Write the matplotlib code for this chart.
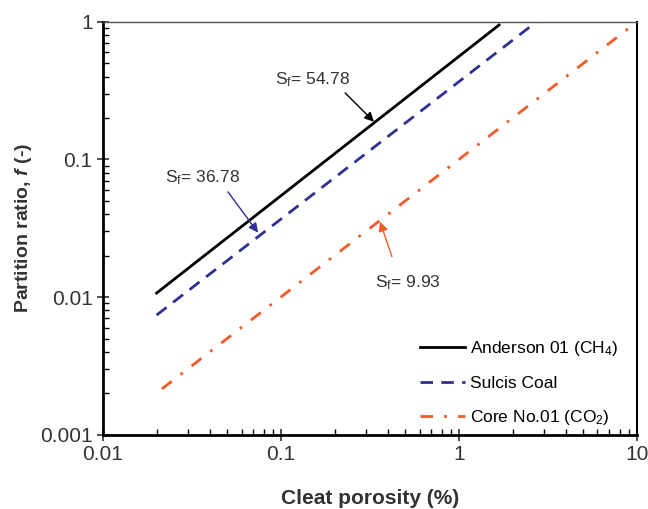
import matplotlib.pyplot as plt

plt.rcParams['font.family'] = ['Liberation Sans', 'DejaVu Sans']
plt.rcParams['mathtext.fontset'] = 'custom'
plt.rcParams['mathtext.rm'] = 'Liberation Sans'
plt.rcParams['mathtext.it'] = 'Liberation Sans:italic'
plt.rcParams['mathtext.bf'] = 'Liberation Sans:bold'
plt.rcParams['mathtext.bfit'] = 'Liberation Sans:bold:italic'

# Line end points (cleat porosity %, partition ratio)
anderson_x = [0.02, 1.68]
anderson_f = [0.0107, 0.95]
sulcis_x = [0.02, 2.72]
sulcis_f = [0.0074, 1.0]
core_x = [0.0214, 10.0]
core_f = [0.00215, 1.0]

labels = ['Anderson 01 (CH$_4$)', 'Sulcis Coal', 'Core No.01 (CO$_2$)']
colors = ['black', '#2E3192', '#F15A29']

# annotations: text, text position, arrow tip, arrow tail
sf_texts = ['S$_\\mathregular{f}$= 54.78', 'S$_\\mathregular{f}$= 36.78', 'S$_\\mathregular{f}$= 9.93']
sf_text_xy = [(0.092, 0.38), (0.0223, 0.0736), (0.337, 0.0127)]
sf_tip_xy = [(0.333, 0.188), (0.0743, 0.0294), (0.36, 0.0353)]
sf_arrow_start = [(0.229, 0.305), (0.0503, 0.0582), (0.42, 0.0197)]

fig, ax = plt.subplots(figsize=(6.48, 5.09), dpi=100)
fig.subplots_adjust(left=0.159, right=0.983, top=0.957, bottom=0.146)

ax.plot(anderson_x, anderson_f, color=colors[0], lw=2, label=labels[0])
ax.plot(sulcis_x, sulcis_f, color=colors[1], lw=2, dashes=(4.5, 3), label=labels[1])
ax.plot(core_x, core_f, color=colors[2], lw=2, dashes=(4.5, 4, 1, 4), label=labels[2])

for txt, txy, tip, start, c in zip(sf_texts, sf_text_xy, sf_tip_xy, sf_arrow_start, colors):
    ax.text(txy[0], txy[1], txt, fontsize=12.5, color='#333333', ha='left', va='center')
    ax.annotate('', xy=tip, xytext=start,
                arrowprops=dict(arrowstyle='-|>', color=c, lw=1, mutation_scale=14,
                                shrinkA=0, shrinkB=0))

ax.set_xscale('log')
ax.set_yscale('log')
ax.set_xlim(0.01, 10)
ax.set_ylim(0.001, 1)
ax.set_xticks([0.01, 0.1, 1, 10])
ax.set_xticklabels(['0.01', '0.1', '1', '10'])
ax.set_yticks([0.001, 0.01, 0.1, 1])
ax.set_yticklabels(['0.001', '0.01', '0.1', '1'])

ax.tick_params(which='major', direction='inout', length=8, width=1.2, labelsize=15,
               colors='#333333', top=False, right=False)
ax.tick_params(which='minor', direction='in', length=4, width=1, top=False, right=False)
for side in ['left', 'bottom']:
    ax.spines[side].set_linewidth(2)
ax.spines['right'].set_linewidth(1.5)
ax.spines['top'].set_linewidth(1)
ax.spines['top'].set_color('#555555')

ax.set_xlabel('Cleat porosity (%)', fontsize=15, fontweight='bold', color='#333333', labelpad=18)
ax.set_ylabel('Partition ratio, $\\mathbfit{f}$ (-)', fontsize=14, fontweight='bold',
              color='#333333', labelpad=4)

ax.legend(loc='lower right', frameon=False, fontsize=12.5, handlelength=2.6,
          labelspacing=1.0, handletextpad=0.3, borderaxespad=0.5, bbox_to_anchor=(0.995, -0.02))

plt.savefig('out.png', dpi=100)
